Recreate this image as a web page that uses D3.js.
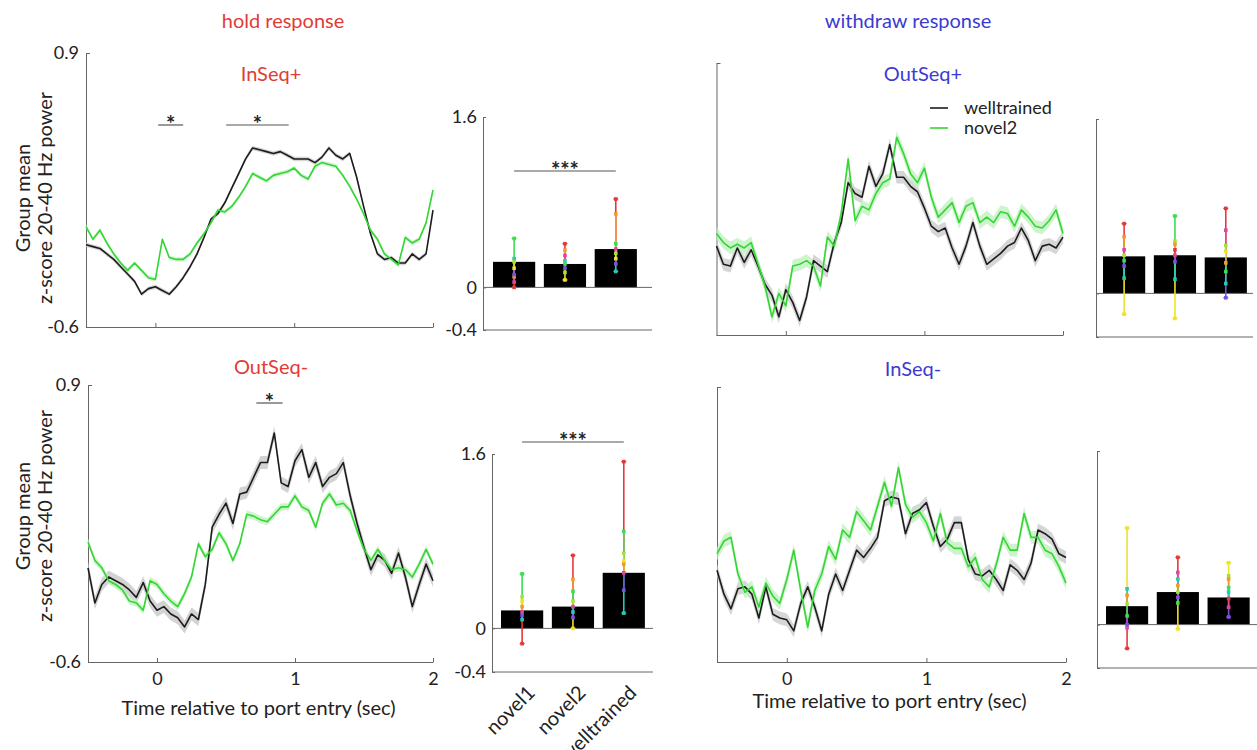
<!DOCTYPE html>
<html>
<head>
<meta charset="utf-8">
<script src="https://cdn.jsdelivr.net/npm/d3@7"></script>
<style>
  body { margin: 0; background: #fff; }
  svg { display: block; }
  text { font-family: Lato, "Open Sans", sans-serif; fill: #222; }
</style>
</head>
<body>
<svg id="fig" width="1257" height="750"></svg>
<script>
// ---- time base (sec relative to port entry), 0.05 s bins ----
const timeStart = -0.5, timeStep = 0.05, timeCount = 51;
const times = d3.range(timeCount).map(i => +(timeStart + i * timeStep).toFixed(2));

// ---- group mean z-scored 20-40 Hz power ----
// hold response, InSeq+
const holdInSeqPlusWell = [
  -0.15, -0.16, -0.17, -0.20, -0.23, -0.27, -0.31, -0.35, -0.42, -0.39,
  -0.38, -0.40, -0.42, -0.38, -0.33, -0.27, -0.20, -0.11, -0.01, 0.02,
  0.08, 0.16, 0.24, 0.32, 0.38, 0.37, 0.36, 0.35, 0.36, 0.34,
  0.32, 0.32, 0.32, 0.30, 0.33, 0.38, 0.34, 0.32, 0.35, 0.22,
  0.06, -0.09, -0.20, -0.23, -0.22, -0.25, -0.25, -0.20, -0.23, -0.20,
  0.04];
const holdInSeqPlusNovel2 = [
  -0.05, -0.12, -0.07, -0.14, -0.20, -0.25, -0.29, -0.25, -0.29, -0.33,
  -0.34, -0.12, -0.22, -0.23, -0.23, -0.20, -0.14, -0.09, -0.03, 0.04,
  0.03, 0.06, 0.11, 0.17, 0.24, 0.22, 0.20, 0.23, 0.24, 0.25,
  0.27, 0.23, 0.21, 0.28, 0.30, 0.29, 0.28, 0.23, 0.17, 0.10,
  0.02, -0.07, -0.12, -0.20, -0.23, -0.26, -0.11, -0.14, -0.12, -0.03,
  0.15];
// hold response, OutSeq-
const holdOutSeqMinusWell = [
  -0.09, -0.28, -0.18, -0.14, -0.16, -0.18, -0.21, -0.25, -0.17, -0.27,
  -0.32, -0.30, -0.34, -0.36, -0.41, -0.34, -0.37, -0.18, 0.13, 0.20,
  0.26, 0.15, 0.31, 0.32, 0.40, 0.48, 0.48, 0.64, 0.37, 0.35,
  0.49, 0.55, 0.40, 0.48, 0.35, 0.40, 0.42, 0.48, 0.30, 0.15,
  0.02, -0.10, -0.02, -0.05, -0.12, -0.01, -0.14, -0.30, -0.18, -0.07,
  -0.16];
const holdOutSeqMinusNovel2 = [
  0.05, -0.05, -0.09, -0.16, -0.18, -0.21, -0.27, -0.28, -0.32, -0.16,
  -0.18, -0.23, -0.27, -0.30, -0.23, -0.14, 0.04, -0.03, 0.01, 0.10,
  0.04, -0.05, 0.04, 0.20, 0.19, 0.17, 0.16, 0.20, 0.24, 0.24,
  0.30, 0.24, 0.22, 0.13, 0.26, 0.31, 0.25, 0.26, 0.22, 0.11,
  0.01, -0.05, 0.01, -0.05, -0.10, -0.09, -0.10, -0.14, -0.07, 0.01,
  -0.07];
// withdraw response, OutSeq+
const withdrawOutSeqPlusWell = [
  -0.11, -0.21, -0.22, -0.12, -0.20, -0.13, -0.22, -0.32, -0.38, -0.50,
  -0.35, -0.42, -0.52, -0.39, -0.19, -0.22, -0.25, -0.09, 0.02, 0.24,
  0.18, 0.16, 0.33, 0.22, 0.29, 0.45, 0.27, 0.27, 0.22, 0.19,
  0.10, 0.00, -0.03, -0.01, -0.12, -0.21, -0.11, 0.02, -0.11, -0.21,
  -0.18, -0.15, -0.11, -0.09, -0.01, -0.08, -0.19, -0.11, -0.10, -0.12,
  -0.06];
const withdrawOutSeqPlusNovel2 = [
  -0.04, -0.09, -0.12, -0.10, -0.12, -0.09, -0.21, -0.33, -0.50, -0.37,
  -0.44, -0.22, -0.21, -0.19, -0.22, -0.33, -0.06, -0.11, 0.07, 0.37,
  0.03, 0.11, 0.09, 0.18, 0.24, 0.26, 0.49, 0.40, 0.29, 0.24,
  0.32, 0.16, 0.05, 0.09, 0.13, 0.02, 0.11, 0.13, 0.02, 0.05,
  0.02, 0.08, 0.07, 0.00, 0.09, 0.05, 0.00, -0.01, 0.03, 0.09,
  -0.04];
// withdraw response, InSeq-
const withdrawInSeqMinusWell = [
  -0.10, -0.23, -0.31, -0.20, -0.19, -0.23, -0.36, -0.19, -0.34, -0.36,
  -0.37, -0.43, -0.28, -0.19, -0.30, -0.43, -0.23, -0.12, -0.21, -0.10,
  0.01, -0.03, 0.02, 0.08, 0.28, 0.30, 0.29, 0.10, 0.21, 0.23,
  0.27, 0.14, 0.03, 0.07, 0.16, 0.16, -0.04, -0.12, -0.13, -0.10,
  -0.15, -0.21, -0.07, -0.10, -0.15, -0.06, 0.12, 0.10, 0.07, -0.01,
  -0.03];
const withdrawInSeqMinusNovel2 = [
  -0.01, 0.06, 0.08, -0.12, -0.22, -0.19, -0.30, -0.17, -0.24, -0.28,
  -0.15, 0.01, -0.21, -0.41, -0.21, -0.12, 0.03, -0.04, 0.12, 0.08,
  0.22, 0.17, 0.12, 0.25, 0.38, 0.25, 0.46, 0.26, 0.19, 0.22,
  0.16, 0.06, 0.21, 0.05, 0.02, 0.02, -0.08, -0.03, -0.15, -0.19,
  -0.07, 0.08, 0.01, 0.01, 0.21, 0.08, 0.08, 0.01, -0.01, -0.08,
  -0.17];

// ---- window-averaged power per group (bars) and per animal (coloured marks) ----
const barCategories = ["novel1", "novel2", "welltrained"];
const holdInSeqPlusBars = [0.24, 0.22, 0.36];
const holdOutSeqMinusBars = [0.165, 0.20, 0.51];
const withdrawOutSeqPlusBars = [0.34, 0.35, 0.33];
const withdrawInSeqMinusBars = [0.17, 0.30, 0.25];

const animalColors = ["#e5383b", "#f39a2b", "#efe12e", "#a6e13a", "#3ddc54", "#27c9b4", "#7a52e0", "#e2449f"];
const holdInSeqPlusAnimals = [
  [0.00, 0.10, 0.18, 0.24, 0.46, 0.27, 0.12, 0.05],
  [0.41, 0.35, 0.07, 0.14, 0.22, 0.25, 0.18, 0.30],
  [0.83, 0.69, 0.27, 0.32, 0.41, 0.15, 0.22, 0.36]];
const holdOutSeqMinusAnimals = [
  [-0.14, 0.20, 0.25, 0.29, 0.50, 0.08, 0.12, 0.15],
  [0.67, 0.45, 0.00, 0.25, 0.34, 0.15, 0.10, 0.20],
  [1.53, 0.59, 0.62, 0.69, 0.89, 0.14, 0.35, 0.51]];
const withdrawOutSeqPlusAnimals = [
  [0.64, 0.52, -0.19, 0.35, 0.30, 0.14, 0.25, 0.40],
  [0.40, 0.45, -0.23, 0.48, 0.71, 0.13, 0.29, 0.35],
  [0.78, 0.28, 0.39, 0.44, 0.20, 0.09, -0.04, 0.58]];
const withdrawInSeqMinusAnimals = [
  [-0.22, 0.27, 0.89, 0.19, 0.08, 0.33, 0.00, -0.03],
  [0.62, 0.36, -0.04, 0.30, 0.20, 0.42, 0.25, 0.48],
  [0.24, 0.42, 0.57, 0.45, 0.34, 0.30, 0.07, 0.16]];

// ---- tick values ----
const lineYTicks = [-0.6, 0.9];
const lineXTicks = [0, 1, 2];
const barYTicks = [-0.4, 0, 1.6];

// ---- styling ----
const RED = "#e23b36", BLUE = "#3b3bd2";
const WELL = "#1c1c1c", NOVEL = "#33d633";
const AXIS = "#666";
const FONT = 20, TICK_FONT = 18;

const svg = d3.select("#fig");

function axisStyle(g) {
  g.selectAll("path.domain").attr("stroke", AXIS).attr("stroke-width", 1);
  g.selectAll(".tick line").attr("stroke", AXIS);
  g.selectAll(".tick text").attr("fill", "#222").style("font-size", TICK_FONT + "px")
    .style("font-family", "Lato, 'Open Sans', sans-serif");
}

function linePanel(cfg) {
  const x = d3.scaleLinear().domain([-0.5, 2]).range([cfg.x0, cfg.x1]);
  const y = d3.scaleLinear().domain([-0.6, 0.9]).range([cfg.yBot, cfg.yTop]);
  const g = svg.append("g");

  const yAxis = d3.axisLeft(y).tickValues(lineYTicks).tickSize(-4).tickSizeOuter(0).tickPadding(7)
    .tickFormat(cfg.yLabels ? (d => String(d)) : "");
  g.append("g").attr("transform", `translate(${cfg.x0},0)`).call(yAxis).call(axisStyle);

  const xAxis = d3.axisBottom(x).tickValues(lineXTicks).tickSize(-4).tickSizeOuter(0).tickPadding(10)
    .tickFormat(cfg.xLabels ? d3.format("d") : "");
  g.append("g").attr("transform", `translate(0,${cfg.yBot})`).call(xAxis).call(axisStyle);

  // SEM-style shading around each mean trace
  cfg.series.forEach(s => {
    const pts = times.map((t, i) => [t, s.values[i]]);
    if (s.band > 0) {
      g.append("path")
        .attr("d", d3.area().x(d => x(d[0])).y0(d => y(d[1] - s.band)).y1(d => y(d[1] + s.band))(pts))
        .attr("fill", s.bandColor).attr("opacity", 0.75);
    }
  });
  cfg.series.forEach(s => {
    const pts = times.map((t, i) => [t, s.values[i]]);
    g.append("path")
      .attr("d", d3.line().x(d => x(d[0])).y(d => y(d[1]))(pts))
      .attr("fill", "none").attr("stroke", s.color).attr("stroke-width", 1.6)
      .attr("stroke-linejoin", "round");
  });

  (cfg.sig || []).forEach(sg => {
    g.append("line").attr("x1", x(sg.from)).attr("x2", x(sg.to))
      .attr("y1", sg.y).attr("y2", sg.y).attr("stroke", "#555").attr("stroke-width", 1.2);
    g.append("text").attr("x", x((sg.from + sg.to) / 2)).attr("y", sg.y + 7)
      .attr("text-anchor", "middle").style("font-size", "22px").style("font-weight", "bold").text("*");
  });

  g.append("text").attr("x", cfg.titleX).attr("y", cfg.titleY).attr("text-anchor", "middle")
    .style("fill", cfg.titleColor).style("font-size", FONT + "px").text(cfg.title);

  if (cfg.xTitle) {
    g.append("text").attr("x", (cfg.x0 + cfg.x1) / 2 - 2).attr("y", cfg.xTitleY).attr("text-anchor", "middle")
      .style("font-size", FONT + "px").text("Time relative to port entry (sec)");
  }
  if (cfg.yTitleCenter) {
    const cy = cfg.yTitleCenter;
    g.append("text").attr("transform", `translate(30,${cy}) rotate(-90)`).attr("text-anchor", "middle")
      .style("font-size", FONT + "px").text("Group mean");
    g.append("text").attr("transform", `translate(52,${cy}) rotate(-90)`).attr("text-anchor", "middle")
      .style("font-size", FONT + "px").text("z-score 20-40 Hz power");
  }
  if (cfg.legend) {
    const L = cfg.legend;
    [["welltrained", WELL], ["novel2", NOVEL]].forEach(([name, col], i) => {
      const yy = L.y + i * 20;
      g.append("line").attr("x1", L.x).attr("x2", L.x + 18).attr("y1", yy).attr("y2", yy)
        .attr("stroke", col).attr("stroke-width", 1.6);
      g.append("text").attr("x", L.x + 34).attr("y", yy + 6).style("font-size", "18px").text(name);
    });
  }
}

function barPanel(cfg) {
  const y = d3.scaleLinear().domain([-0.4, 1.6]).range([cfg.yBot, cfg.yTop]);
  const xb = d3.scaleBand().domain(barCategories).range([cfg.b0, cfg.b1])
    .paddingInner(0.17).paddingOuter(0.085);
  const g = svg.append("g");

  const yAxis = d3.axisLeft(y).tickValues(barYTicks).tickSize(-3).tickSizeOuter(0).tickPadding(6)
    .tickFormat(cfg.yLabels ? (d => String(d)) : "");
  g.append("g").attr("transform", `translate(${cfg.ax},0)`).call(yAxis).call(axisStyle);

  // bottom axis line
  g.append("line").attr("x1", cfg.ax).attr("x2", cfg.axEnd).attr("y1", cfg.yBot).attr("y2", cfg.yBot)
    .attr("stroke", AXIS).attr("stroke-width", 1);

  g.selectAll("rect.bar").data(cfg.bars).join("rect").attr("class", "bar")
    .attr("x", (d, i) => xb(barCategories[i])).attr("width", xb.bandwidth())
    .attr("y", d => y(Math.max(0, d))).attr("height", d => Math.abs(y(d) - y(0)))
    .attr("fill", "#000");

  // zero line
  g.append("line").attr("x1", cfg.ax).attr("x2", cfg.axEnd).attr("y1", y(0)).attr("y2", y(0))
    .attr("stroke", AXIS).attr("stroke-width", 1);

  // per-animal values: a coloured stem from the group mean to each animal's value,
  // longest stems drawn first so shorter ones stay visible on top
  cfg.animals.forEach((vals, i) => {
    const cx = xb(barCategories[i]) + xb.bandwidth() / 2;
    const mean = cfg.bars[i];
    const pts = vals.map((v, k) => ({ v, c: animalColors[k] }))
      .sort((a, b) => Math.abs(b.v - mean) - Math.abs(a.v - mean));
    pts.forEach(p => {
      g.append("line").attr("x1", cx).attr("x2", cx).attr("y1", y(mean)).attr("y2", y(p.v))
        .attr("stroke", p.c).attr("stroke-width", 1.6);
    });
    pts.forEach(p => {
      g.append("rect").attr("x", cx - 1.8).attr("y", y(p.v) - 1.8).attr("width", 3.6).attr("height", 3.6)
        .attr("fill", p.c);
    });
    const hi = d3.greatest(pts, p => p.v), lo = d3.least(pts, p => p.v);
    [hi, lo].forEach(p => {
      g.append("line").attr("x1", cx - 2.5).attr("x2", cx + 2.5).attr("y1", y(p.v)).attr("y2", y(p.v))
        .attr("stroke", p.c).attr("stroke-width", 1.2);
    });
  });

  if (cfg.sig) {
    const xa = xb(barCategories[0]) + xb.bandwidth() / 2, xc = xb(barCategories[2]) + xb.bandwidth() / 2;
    g.append("line").attr("x1", xa).attr("x2", xc).attr("y1", cfg.sig).attr("y2", cfg.sig)
      .attr("stroke", "#555").attr("stroke-width", 1.2);
    g.append("text").attr("x", (xa + xc) / 2).attr("y", cfg.sig + 7).attr("text-anchor", "middle")
      .style("font-size", "22px").style("font-weight", "bold").text("***");
  }

  if (cfg.catLabels) {
    barCategories.forEach(c => {
      const cx = xb(c) + xb.bandwidth() / 2;
      g.append("text").attr("transform", `translate(${cx + 14},${cfg.yBot + 22}) rotate(-45)`)
        .attr("text-anchor", "end").style("font-size", FONT + "px").text(c);
    });
  }
}

// ---- headers ----
svg.append("text").attr("x", 283).attr("y", 28).attr("text-anchor", "middle")
  .style("fill", RED).style("font-size", FONT + "px").text("hold response");
svg.append("text").attr("x", 908).attr("y", 28).attr("text-anchor", "middle")
  .style("fill", BLUE).style("font-size", FONT + "px").text("withdraw response");

// ---- hold response ----
linePanel({
  x0: 86, x1: 433, yTop: 53, yBot: 327, yLabels: true, xLabels: false, yTitleCenter: 198,
  title: "InSeq+", titleColor: RED, titleX: 271, titleY: 81,
  series: [
    { values: holdInSeqPlusWell, color: WELL, band: 0.012, bandColor: "#c8c8c8" },
    { values: holdInSeqPlusNovel2, color: NOVEL, band: 0.012, bandColor: "#bdf0bd" }],
  sig: [{ from: 0.02, to: 0.2, y: 125 }, { from: 0.51, to: 0.96, y: 125 }]
});
barPanel({
  ax: 483, axEnd: 652, b0: 488.7, b1: 641.2, yTop: 117, yBot: 330, yLabels: true,
  bars: holdInSeqPlusBars, animals: holdInSeqPlusAnimals, sig: 171
});
linePanel({
  x0: 88, x1: 433, yTop: 385, yBot: 662, yLabels: true, xLabels: true, yTitleCenter: 516,
  xTitle: true, xTitleY: 715,
  title: "OutSeq-", titleColor: RED, titleX: 271, titleY: 374,
  series: [
    { values: holdOutSeqMinusWell, color: WELL, band: 0.035, bandColor: "#c4c4c4" },
    { values: holdOutSeqMinusNovel2, color: NOVEL, band: 0.02, bandColor: "#bdf0bd" }],
  sig: [{ from: 0.72, to: 0.91, y: 403 }]
});
barPanel({
  ax: 492, axEnd: 653, b0: 496.7, b1: 649.2, yTop: 454, yBot: 672, yLabels: true,
  bars: holdOutSeqMinusBars, animals: holdOutSeqMinusAnimals, sig: 442, catLabels: true
});

// ---- withdraw response ----
linePanel({
  x0: 716.5, x1: 1063, yTop: 63, yBot: 335, yLabels: false, xLabels: false,
  title: "OutSeq+", titleColor: BLUE, titleX: 923, titleY: 81,
  series: [
    { values: withdrawOutSeqPlusWell, color: WELL, band: 0.035, bandColor: "#c8c8c8" },
    { values: withdrawOutSeqPlusNovel2, color: NOVEL, band: 0.035, bandColor: "#bdf0bd" }],
  legend: { x: 930, y: 108 }
});
barPanel({
  ax: 1096, axEnd: 1253, b0: 1098.7, b1: 1251.2, yTop: 119, yBot: 337, yLabels: false,
  bars: withdrawOutSeqPlusBars, animals: withdrawOutSeqPlusAnimals
});
linePanel({
  x0: 717, x1: 1066, yTop: 387, yBot: 662, yLabels: false, xLabels: true,
  xTitle: true, xTitleY: 708,
  title: "InSeq-", titleColor: BLUE, titleX: 913, titleY: 376,
  series: [
    { values: withdrawInSeqMinusWell, color: WELL, band: 0.035, bandColor: "#c8c8c8" },
    { values: withdrawInSeqMinusNovel2, color: NOVEL, band: 0.035, bandColor: "#bdf0bd" }]
});
barPanel({
  ax: 1097, axEnd: 1257, b0: 1101.7, b1: 1254, yTop: 451, yBot: 668, yLabels: false,
  bars: withdrawInSeqMinusBars, animals: withdrawInSeqMinusAnimals
});
</script>
</body>
</html>
